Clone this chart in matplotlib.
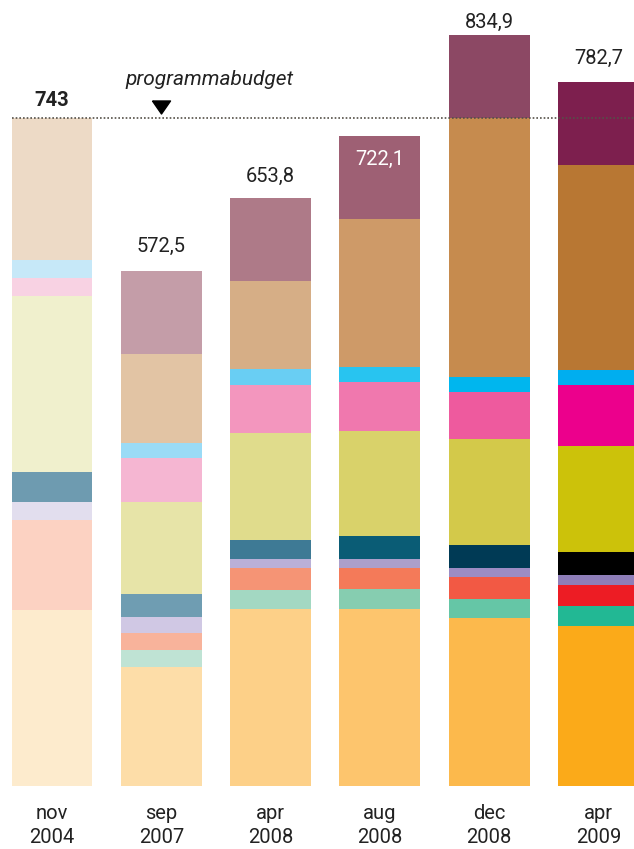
import numpy as np
import matplotlib.pyplot as plt
from matplotlib.path import Path

plt.rcParams['font.family'] = ['Roboto', 'DejaVu Sans']

# peilmomenten en totalen (mln euro)
periodes = ['nov\n2004', 'sep\n2007', 'apr\n2008', 'aug\n2008', 'dec\n2008', 'apr\n2009']
totalen = [743, 572.5, 653.8, 722.1, 834.9, 782.7]
budget = 743

# onderdelen per peilmoment, van onder naar boven gestapeld
oranje = [195.7, 132.3, 196.8, 196.8, 186.8, 177.9]
mint = [0, 18.9, 21.1, 22.2, 21.1, 22.2]
rood = [100.1, 18.9, 24.5, 23.3, 24.5, 23.3]
lila = [20.0, 17.8, 10.0, 10.0, 10.0, 11.1]
donkerblauw = [33.4, 25.6, 21.1, 25.6, 25.6, 25.6]
geel = [195.7, 102.3, 119.0, 116.7, 117.8, 117.8]
roze = [20.0, 48.9, 53.4, 54.5, 52.3, 67.8]
cyaan = [20.0, 16.7, 17.8, 16.7, 16.7, 16.7]
bruin = [158.1, 98.9, 97.8, 164.5, 287.9, 227.9]
paars = [0, 92.2, 92.3, 91.8, 92.2, 92.4]

lagen = [oranje, mint, rood, lila, donkerblauw, geel, roze, cyaan, bruin, paars]

# kleuren worden per peilmoment voller
kleuren = [
    ['#FDEBCD', '#FDDDA8', '#FDD088', '#FDC56D', '#FCB94C', '#FBAA19'],
    ['#FFFFFF', '#BFE3D4', '#A3D8C2', '#86CDB0', '#65C6A6', '#22B894'],
    ['#FCD2C2', '#F8B39B', '#F59475', '#F47A59', '#F25944', '#ED1C24'],
    ['#E2DEEE', '#D0C8E4', '#BAB0D8', '#AC9FCB', '#9C8CC4', '#8E7EB8'],
    ['#6E9BB0', '#6F9DB2', '#3E7A95', '#0A5C75', '#003A55', '#000000'],
    ['#F0F0CD', '#E7E4A8', '#E0DC8C', '#D9D26A', '#D3C94A', '#CCC20A'],
    ['#F8D2E3', '#F5B6D2', '#F396BE', '#F078AE', '#EE5A9E', '#EC008C'],
    ['#C6E8F8', '#9ADBF6', '#69CEF3', '#28C4F0', '#00B6EE', '#00AEEF'],
    ['#EDDAC6', '#E2C4A4', '#D6AE86', '#CE9A68', '#C68B4E', '#B87733'],
    ['#FFFFFF', '#C49DA8', '#AE7A88', '#9E6074', '#8C4864', '#7D1F4E'],
]

fig = plt.figure(figsize=(6.34, 8.49), dpi=100)
ax = fig.add_axes([0, 63 / 849, 1, 786 / 849])

x = np.arange(len(periodes))
breedte = 0.74
onder = np.zeros(len(periodes))
for laag, kl in zip(lagen, kleuren):
    laag = np.array(laag)
    ax.bar(x, laag, breedte, bottom=onder, color=kl, linewidth=0)
    onder += laag

ax.set_xlim(-0.476, 5.325)
ax.set_ylim(0, 873.8)

# totalen boven de staven
def fmt(v):
    return str(int(v)) if v == int(v) else f'{v:.1f}'.replace('.', ',')

afstand = [12, 19, 16, -13, 7, 18]
for xi, tot, d in zip(x, totalen, afstand):
    if d < 0:
        ax.annotate(fmt(tot), (xi, tot), xytext=(0, d), textcoords='offset pixels',
                    ha='center', va='top', fontsize=14.5, color='white')
    else:
        ax.annotate(fmt(tot), (xi, tot), xytext=(0, d), textcoords='offset pixels',
                    ha='center', va='baseline', fontsize=14.5, color='#222222',
                    fontweight='bold' if xi == 0 else 'normal')

# programmabudget-lijn
ax.plot([-breedte / 2, 5.6], [budget, budget], color='#555048', lw=1.2,
        ls=(0, (1, 1.2)), zorder=5, clip_on=False)
driehoek = Path([(-1, 0.72), (1, 0.72), (0, -0.72), (-1, 0.72)])
ax.plot(1.0, 755, marker=driehoek, markersize=13, color='black', zorder=6)
ax.text(1.44, 779, 'programmabudget', ha='center', va='baseline',
        fontsize=15, style='italic', color='#222222')

ax.set_xticks(x, periodes)
ax.tick_params(axis='x', length=0, pad=13, labelsize=14.5, labelcolor='#222222')
plt.setp(ax.get_xticklabels(), linespacing=1.3)
ax.set_yticks([])
for s in ax.spines.values():
    s.set_visible(False)

fig.savefig('out.png', dpi=100)
